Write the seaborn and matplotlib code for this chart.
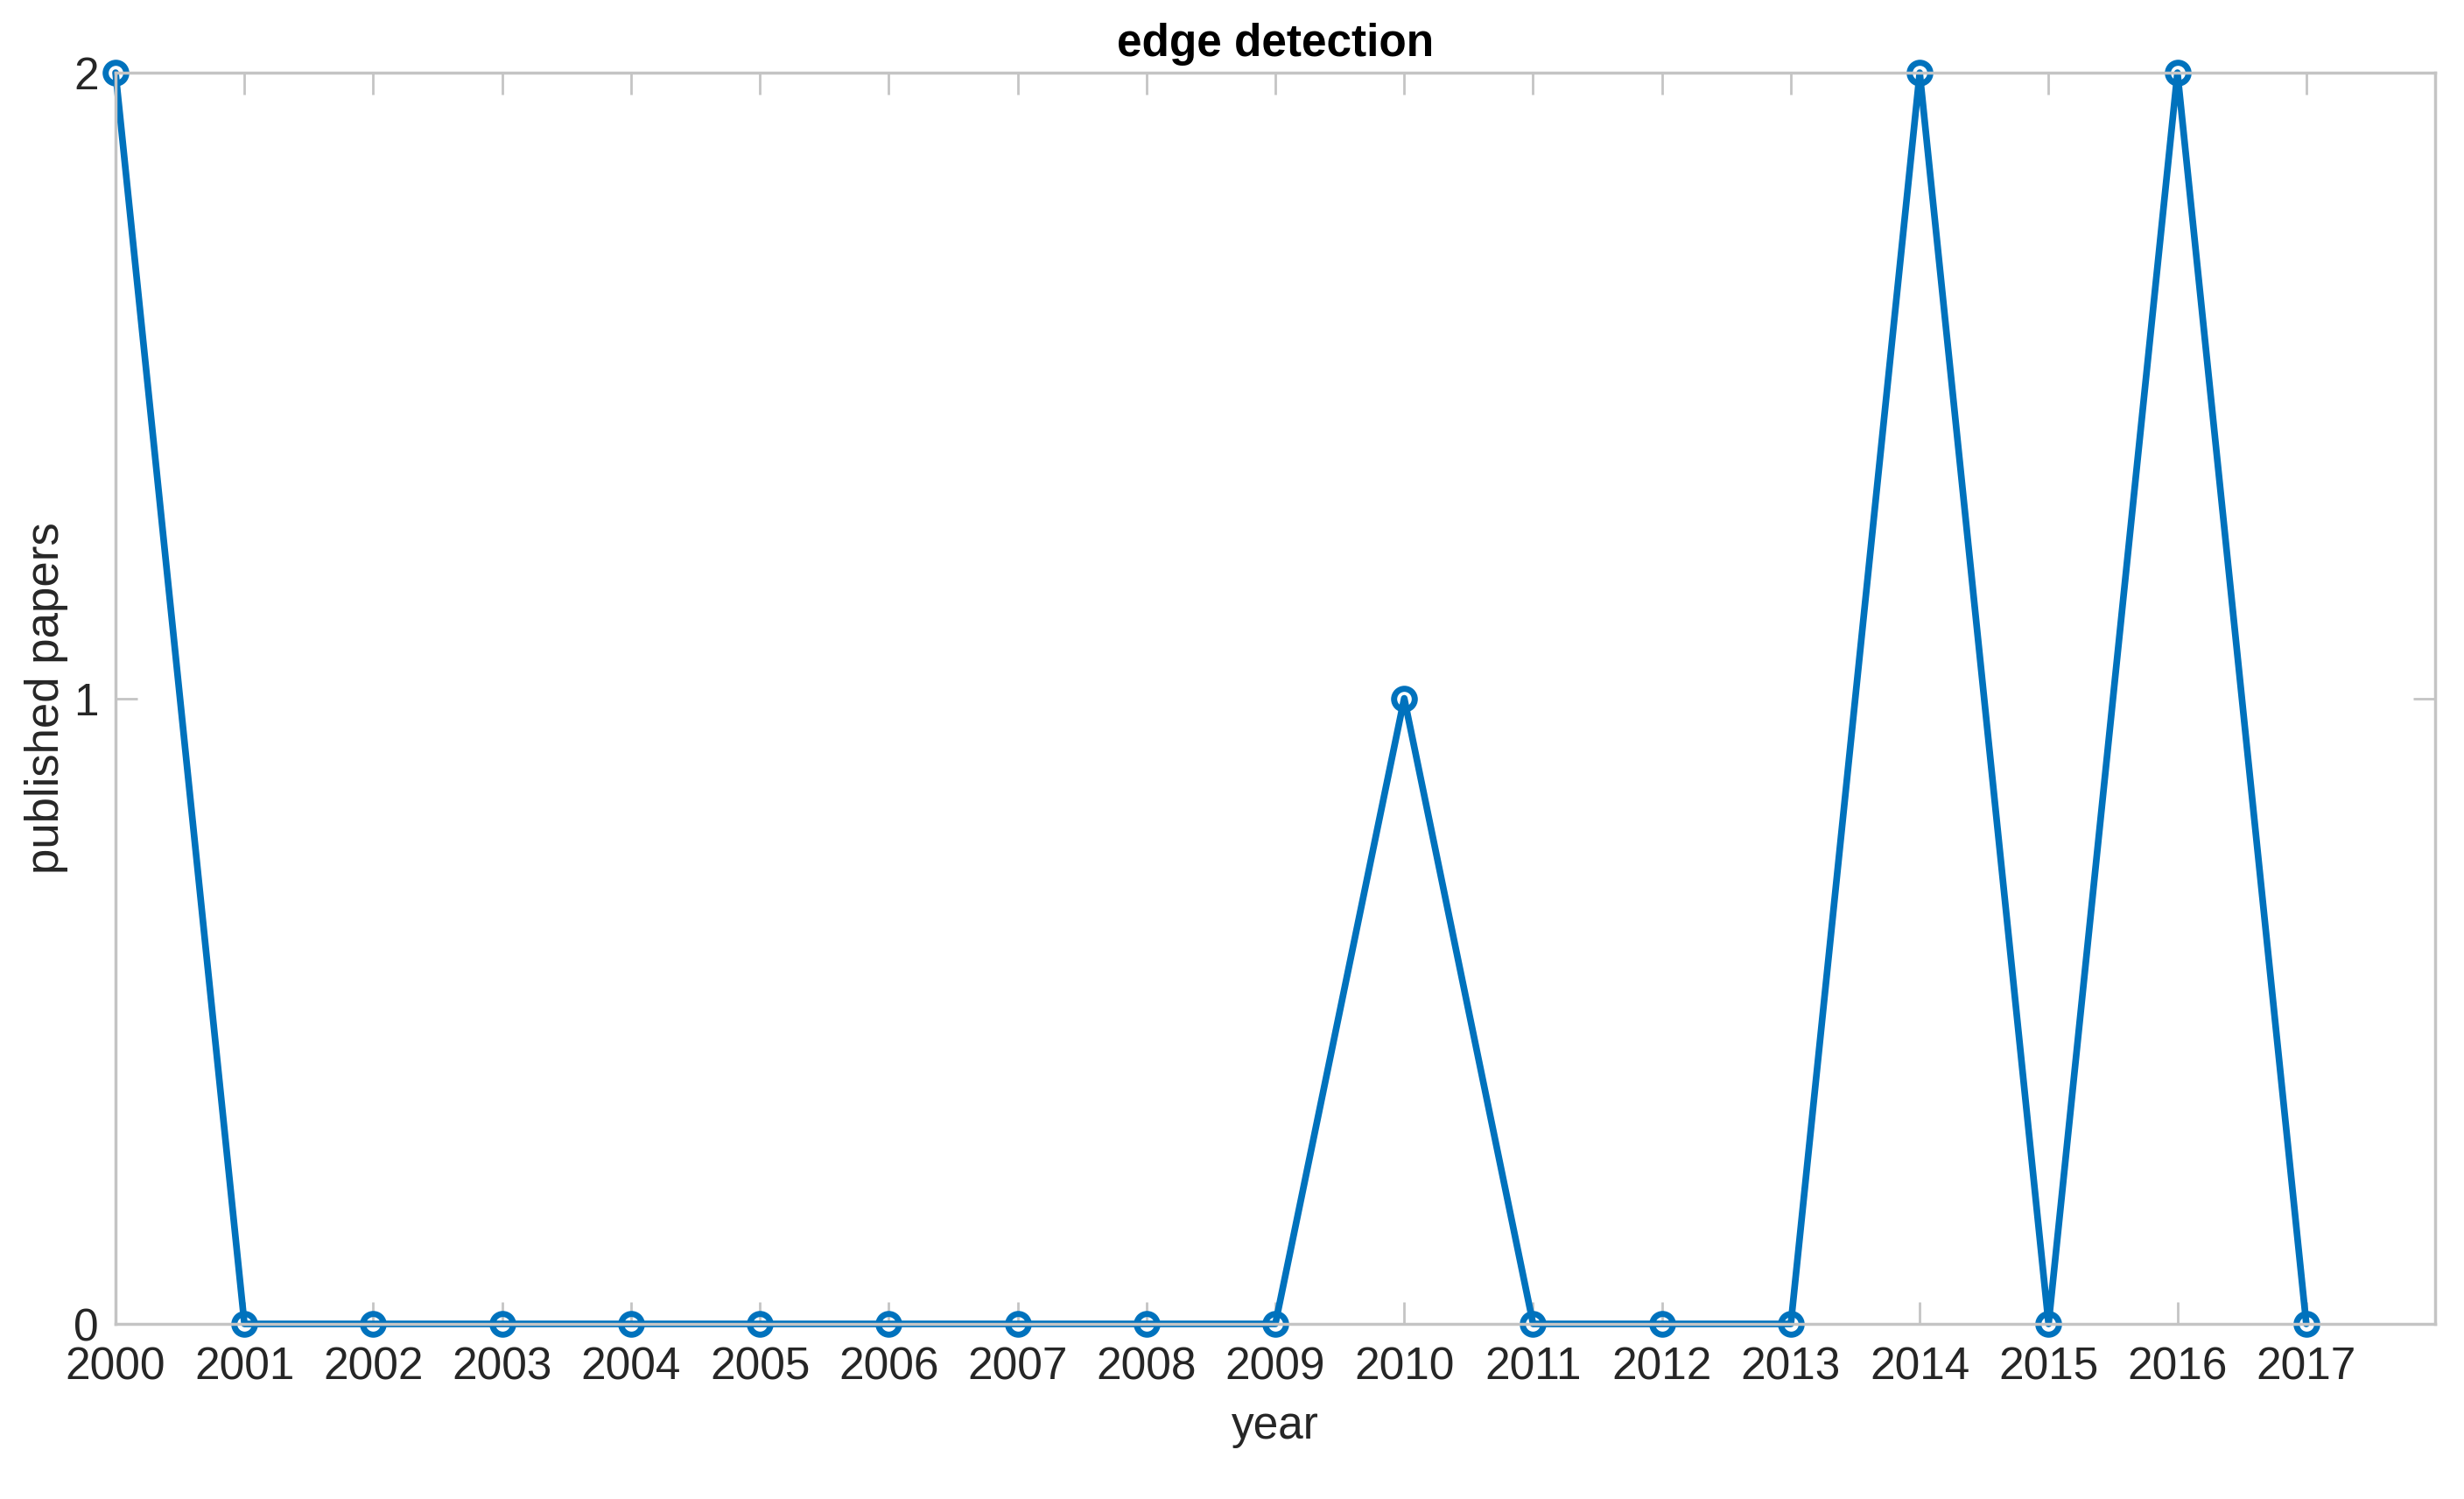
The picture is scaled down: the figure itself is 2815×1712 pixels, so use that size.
import numpy as np
import pandas as pd
import matplotlib
matplotlib.use("Agg")
import matplotlib.pyplot as plt
import seaborn as sns

years = [2000, 2001, 2002, 2003, 2004, 2005, 2006, 2007, 2008,
         2009, 2010, 2011, 2012, 2013, 2014, 2015, 2016, 2017]
papers = [2, 0, 0, 0, 0, 0, 0, 0, 0, 0, 1, 0, 0, 0, 2, 0, 2, 0]
y_ticks = [0, 1, 2]

df = pd.DataFrame({"year": years, "papers": papers})

sns.set_style("ticks")
plt.rcParams['font.family'] = ['Liberation Sans', 'DejaVu Sans']

line_color = "#0072BD"
box_color = "#c4c4c4"
text_color = "#262626"

fig = plt.figure(figsize=(28.15, 17.12), dpi=100)
ax = fig.add_axes([0.0469, 0.1168, 0.9414, 0.8347])

sns.lineplot(data=df, x="year", y="papers", ax=ax, color=line_color,
             linewidth=5.5, marker="o", markersize=17,
             markerfacecolor="none", markeredgecolor=line_color,
             markeredgewidth=5, clip_on=False)

ax.set_xlim(2000, 2018)
ax.set_ylim(0, 2)
ax.set_xticks(years)
ax.set_xticklabels([str(y) for y in years])
ax.set_yticks(y_ticks)

for side in ["left", "right", "top", "bottom"]:
    ax.spines[side].set_visible(True)
    ax.spines[side].set_color(box_color)
    ax.spines[side].set_linewidth(2.5)

ax.tick_params(axis="both", which="major", direction="in", length=18,
               width=2, color=box_color, labelsize=37, labelcolor=text_color,
               top=True, right=True)
ax.tick_params(axis="x", pad=18)
ax.tick_params(axis="y", pad=14)

ax.set_xlabel("year", fontsize=37, color=text_color, labelpad=14)
ax.set_ylabel("published papers", fontsize=38, color=text_color, labelpad=4)
ax.set_title("edge detection", fontsize=37, fontweight="bold", color="black", pad=14)

fig.savefig("out.png", dpi=100, facecolor="white")
